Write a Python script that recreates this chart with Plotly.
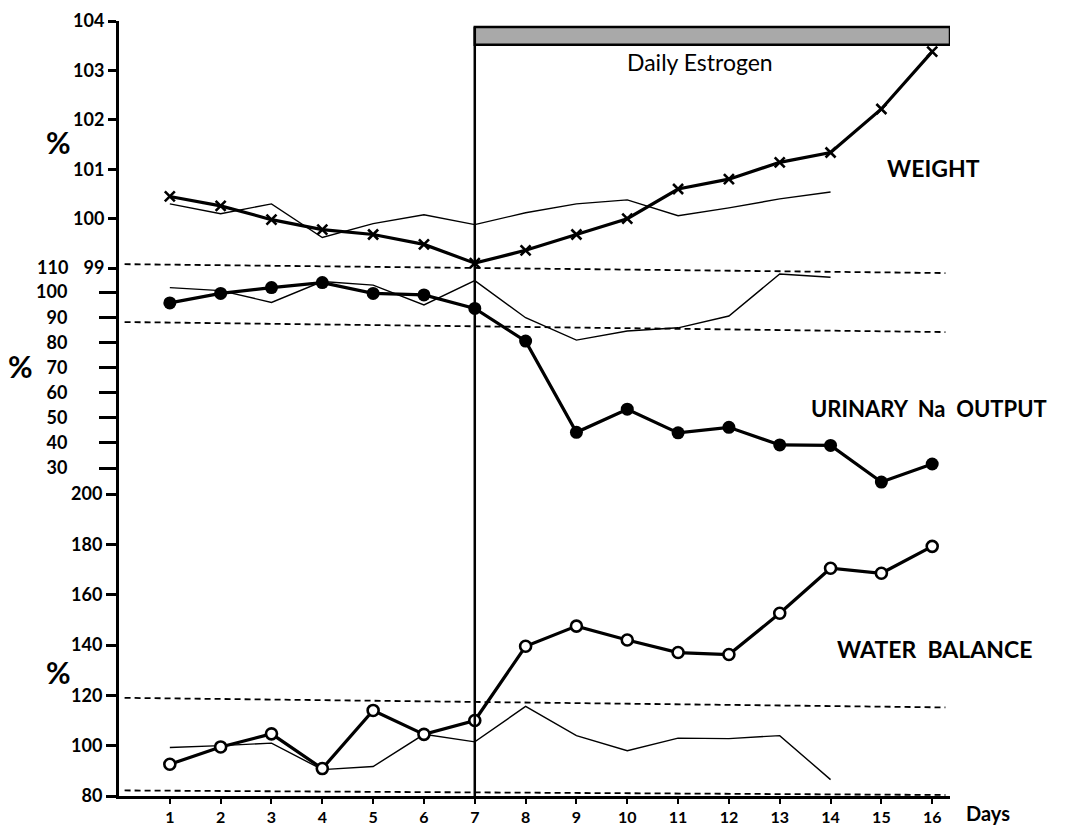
import plotly.graph_objects as go

# ---------------- data ----------------
days = list(range(1, 17))
days_ctrl = list(range(1, 15))

weight = [100.45, 100.26, 99.98, 99.78, 99.68, 99.48, 99.1, 99.36, 99.68, 100.0,
          100.6, 100.8, 101.14, 101.34, 102.22, 103.38]
weight_ctrl = [100.3, 100.1, 100.3, 99.62, 99.9, 100.08, 99.88, 100.12, 100.3, 100.38,
               100.06, 100.22, 100.4, 100.54]

na_output = [95.7, 99.5, 101.8, 103.8, 99.5, 98.9, 93.5, 80.5, 44.2, 53.4,
             44.0, 46.2, 39.2, 39.0, 24.4, 31.6]
na_ctrl = [101.8, 100.6, 95.9, 104.2, 102.8, 94.9, 104.6, 89.8, 80.9, 84.5,
           85.8, 90.5, 107.2, 105.9]

water = [92.6, 99.5, 104.7, 90.9, 114.0, 104.5, 110.0, 139.5, 147.5, 142.0,
         137.0, 136.2, 152.6, 170.5, 168.5, 179.2]
water_ctrl = [99.3, 100.0, 101.0, 90.5, 91.7, 104.5, 101.5, 115.6, 104.0, 98.0,
              103.0, 102.8, 104.0, 86.5]

# normal-range dashed reference lines (start/end)
ref_x = [0.11, 16.26]
ref_weight_upper = [99.08, 98.9]
ref_na_lower = [88.1, 84.1]
ref_water_upper = [119.0, 115.2]
ref_water_lower = [82.2, 80.4]

estrogen_start = 7
estrogen_end = 16.35
estrogen_bar = [103.52, 103.88]

weight_ticks = [99, 100, 101, 102, 103, 104]
na_ticks = [30, 40, 50, 60, 70, 80, 90, 100]
na_top_label = 110
water_ticks = [80, 100, 120, 140, 160, 180, 200]

# ---------------- layout geometry (screen pixels) ----------------
W, H = 1066, 827
OFF = 8                       # page body margin
PX_LEFT, PX_RIGHT = 119.2, 949.8
PX_TOP, PX_BOT = 21, 796
ml = PX_LEFT - OFF
mr = (W + OFF) - PX_RIGHT
mt = PX_TOP - OFF
mb = (H + OFF) - PX_BOT

def paper_x(sx):
    return (sx - PX_LEFT) / (PX_RIGHT - PX_LEFT)

def paper_y(sy):
    return (PX_BOT - sy) / (PX_BOT - PX_TOP)

weight_range = [98.8, 104]
na_range = [15, 110]
water_range = [80, 200]
dom_weight = [paper_y(278), 1.0]
dom_na = [paper_y(505.7), paper_y(267)]
dom_water = [0.0, paper_y(494)]

FONT = "Lato"
thick = 3.2
thin = 1.4

fig = go.Figure()

def dashed(y, axis):
    fig.add_trace(go.Scatter(x=ref_x, y=y, mode="lines", yaxis=axis,
                             line=dict(color="black", width=1.8, dash="6px,4px"),
                             hoverinfo="skip", showlegend=False))

dashed(ref_weight_upper, "y")
dashed(ref_na_lower, "y2")
dashed(ref_water_upper, "y3")
dashed(ref_water_lower, "y3")

# Weight
fig.add_trace(go.Scatter(x=days_ctrl, y=weight_ctrl, mode="lines", yaxis="y",
                         line=dict(color="black", width=thin), showlegend=False))
fig.add_trace(go.Scatter(x=days, y=weight, mode="lines+markers", yaxis="y",
                         line=dict(color="black", width=thick),
                         marker=dict(symbol="x-thin", size=10, color="black",
                                     line=dict(color="black", width=2.6)),
                         cliponaxis=False, showlegend=False))
# Urinary Na
fig.add_trace(go.Scatter(x=days_ctrl, y=na_ctrl, mode="lines", yaxis="y2",
                         line=dict(color="black", width=thin), showlegend=False))
fig.add_trace(go.Scatter(x=days, y=na_output, mode="lines+markers", yaxis="y2",
                         line=dict(color="black", width=thick),
                         marker=dict(symbol="circle", size=13, color="black"),
                         cliponaxis=False, showlegend=False))
# Water balance
fig.add_trace(go.Scatter(x=days_ctrl, y=water_ctrl, mode="lines", yaxis="y3",
                         line=dict(color="black", width=thin), showlegend=False))
fig.add_trace(go.Scatter(x=days, y=water, mode="lines+markers", yaxis="y3",
                         line=dict(color="black", width=thick),
                         marker=dict(symbol="circle", size=11, color="white",
                                     line=dict(color="black", width=2.6)),
                         cliponaxis=False, showlegend=False))

tickfont = dict(family=FONT, size=18, color="black", weight="bold")

yax_common = dict(showgrid=False, zeroline=False, showline=True, linecolor="black",
                  linewidth=3, ticks="outside", tickcolor="black", tickwidth=2.5,
                  tickfont=tickfont, anchor="x", fixedrange=True, automargin=False,
                  ticklabeloverflow="allow")

bar_top_paper = dom_weight[0] + (estrogen_bar[1] - weight_range[0]) / \
    (weight_range[1] - weight_range[0]) * (dom_weight[1] - dom_weight[0])

fig.update_layout(
    width=W, height=H,
    margin=dict(t=mt, b=mb, l=ml, r=mr, autoexpand=False),
    paper_bgcolor="white", plot_bgcolor="rgba(0,0,0,0)",
    showlegend=False,
    xaxis=dict(range=[0, 16.35], tickvals=days, ticktext=[str(d) for d in days],
               showgrid=False, zeroline=False, showline=True, linecolor="black",
               linewidth=3, ticks="outside", ticklen=5, tickwidth=2, tickcolor="black",
               tickfont=dict(family=FONT, size=16, color="black", weight="bold"),
               anchor="y3", fixedrange=True, automargin=False,
               ticklabeloverflow="allow"),
    yaxis=dict(domain=dom_weight, range=weight_range, tickvals=weight_ticks,
               ticklen=8, **yax_common),
    yaxis2=dict(domain=dom_na, range=na_range, tickvals=na_ticks,
                ticklen=17, ticklabelstandoff=28, **yax_common),
    yaxis3=dict(domain=dom_water, range=water_range, tickvals=water_ticks,
                ticklen=10, **yax_common),
)

# estrogen bar and the start line
fig.add_shape(type="rect", xref="x", yref="y", x0=estrogen_start, x1=estrogen_end,
              y0=estrogen_bar[0], y1=estrogen_bar[1],
              fillcolor="#a9a9a9", line=dict(color="black", width=2.5))
fig.add_shape(type="line", xref="x", yref="paper", x0=estrogen_start, x1=estrogen_start,
              y0=-0.004, y1=bar_top_paper, line=dict(color="black", width=2.5))

# top Na tick label (shares its row with the weight 99 label)
fig.add_annotation(text=str(na_top_label), x=paper_x(70), y=na_top_label, xref="paper",
                   yref="y2", xanchor="right", yanchor="middle", showarrow=False,
                   font=tickfont)

def label(text, sx, sy, size, bold=True):
    fig.add_annotation(text=text, x=paper_x(sx), y=paper_y(sy), xref="paper",
                       yref="paper", xanchor="center", yanchor="middle",
                       showarrow=False,
                       font=dict(family=FONT, size=size, color="black",
                                 weight="bold" if bold else "normal"))

nb = "\u00a0"
label("Daily Estrogen", 700, 62, 23, bold=False)
label("WEIGHT", 933, 168, 23)
label("URINARY" + nb * 2 + "Na" + nb * 2 + "OUTPUT", 929, 408, 22)
label("WATER" + nb * 2 + "BALANCE", 934, 649, 23)
label("Days", 988, 813, 20)
for sx, sy in [(59, 142), (21, 366), (59, 672)]:
    label("%", sx, sy, 30)

fig.write_html("out.html")
